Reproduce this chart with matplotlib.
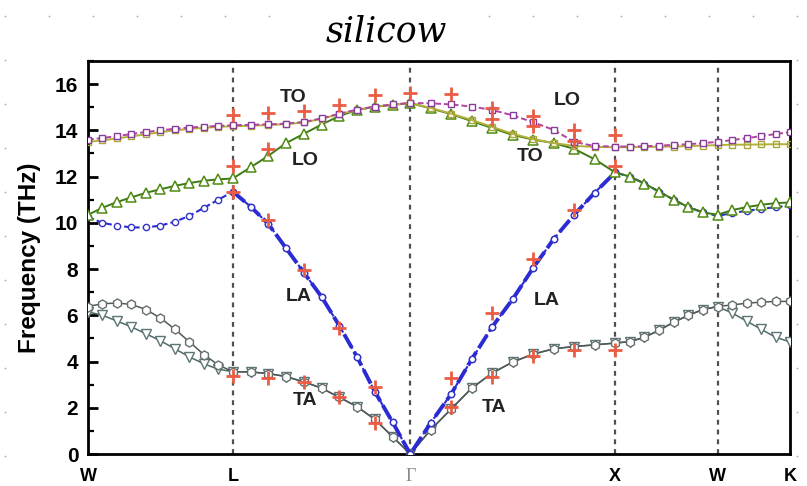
import numpy as np
import matplotlib
matplotlib.use('Agg')
import matplotlib.pyplot as plt
import matplotlib.ticker as ticker

plt.rc('font', family=['Liberation Sans', 'DejaVu Sans'], weight='bold')
plt.rc('axes', linewidth=2.0)

# path W-L-G-X-W-K, segment lengths in 2pi/a
seg_len = [0.7071, 0.8660, 1.0, 0.5, 0.3536]
seg_pts = [11, 11, 11, 8, 6]
kpt_labels = ['W', 'L', 'Γ', 'X', 'W', 'K']

# calculated branches, one list per segment (W-L, L-G, G-X, X-W, W-K), THz
lo_branch = [
    [13.6, 13.67, 13.75, 13.84, 13.93, 14.0, 14.07, 14.12, 14.16, 14.19, 14.22],
    [14.22, 14.24, 14.26, 14.29, 14.36, 14.52, 14.72, 14.9, 15.03, 15.12, 15.18],
    [15.18, 15.17, 15.12, 15.03, 14.88, 14.65, 14.35, 14.02, 13.5, 13.32, 13.3],
    [13.3, 13.3, 13.31, 13.34, 13.37, 13.4, 13.45, 13.5],
    [13.5, 13.58, 13.66, 13.75, 13.84, 13.92],
]
to_branch = [
    [13.5, 13.57, 13.65, 13.74, 13.83, 13.92, 14.0, 14.06, 14.11, 14.15, 14.18],
    [14.18, 14.2, 14.23, 14.27, 14.34, 14.5, 14.7, 14.88, 15.02, 15.11, 15.18],
    [15.18, 14.97, 14.72, 14.45, 14.15, 13.85, 13.62, 13.45, 13.33, 13.28, 13.27],
    [13.27, 13.27, 13.28, 13.29, 13.3, 13.32, 13.34, 13.36],
    [13.36, 13.38, 13.38, 13.39, 13.4, 13.4],
]
opt_branch = [
    [10.35, 10.65, 10.9, 11.1, 11.3, 11.45, 11.6, 11.72, 11.82, 11.88, 11.92],
    [11.92, 12.4, 12.9, 13.45, 13.85, 14.25, 14.62, 14.88, 15.02, 15.1, 15.18],
    [15.18, 14.95, 14.7, 14.4, 14.1, 13.8, 13.6, 13.45, 13.2, 12.75, 12.18],
    [12.18, 12.0, 11.7, 11.35, 11.0, 10.68, 10.45, 10.35],
    [10.35, 10.55, 10.68, 10.78, 10.85, 10.88],
]
la_branch = [
    [10.25, 10.0, 9.88, 9.8, 9.8, 9.88, 10.05, 10.3, 10.65, 11.0, 11.35],
    [11.35, 10.7, 9.95, 8.9, 7.85, 6.8, 5.55, 4.2, 2.7, 1.38, 0.0],
    [0.0, 1.35, 2.6, 4.1, 5.5, 6.7, 8.05, 9.3, 10.35, 11.3, 12.18],
    [12.18, 12.0, 11.7, 11.35, 11.0, 10.68, 10.45, 10.3],
    [10.3, 10.42, 10.52, 10.6, 10.68, 10.75],
]
ta_common = [
    [3.56, 3.55, 3.48, 3.35, 3.12, 2.85, 2.45, 2.05, 1.5, 0.75, 0.0],
    [0.0, 1.05, 1.95, 2.85, 3.5, 3.98, 4.32, 4.55, 4.65, 4.72, 4.8],
    [4.8, 4.86, 5.05, 5.35, 5.7, 6.0, 6.25, 6.38],
]
ta1_branch = ([[6.38, 6.5, 6.53, 6.47, 6.25, 5.88, 5.4, 4.85, 4.3, 3.85, 3.56]]
              + ta_common + [[6.38, 6.45, 6.52, 6.57, 6.6, 6.6]])
ta2_branch = ([[6.15, 6.0, 5.75, 5.5, 5.2, 4.9, 4.55, 4.2, 3.9, 3.67, 3.56]]
              + ta_common + [[6.38, 6.1, 5.75, 5.4, 5.05, 4.85]])

# experiment, fraction along segment and frequencies there
exp_lg_q = [0.0, 0.2, 0.4, 0.6, 0.8, 1.0]
exp_lg_f = [[14.65, 12.47, 11.35, 3.38], [14.75, 13.2, 10.13, 3.27],
            [14.82, 7.97, 3.13], [15.1, 5.45, 2.48], [15.54, 2.9, 1.33], [15.6]]
exp_gx_q = [0.2, 0.4, 0.6, 0.8, 1.0]
exp_gx_f = [[15.57, 3.3, 2.03], [14.95, 14.5, 6.1, 3.32],
            [14.6, 14.2, 8.45, 4.25], [14.03, 13.52, 10.56, 4.5], [13.8, 12.45, 4.5]]

kpt_x = np.concatenate([[0.0], np.cumsum(seg_len)])


def path_x():
    xs = []
    for i, (l, n) in enumerate(zip(seg_len, seg_pts)):
        x = kpt_x[i] + np.linspace(0, l, n)
        xs.append(x if i == 0 else x[1:])
    return np.concatenate(xs)


def join(branch):
    return np.concatenate([branch[0]] + [s[1:] for s in branch[1:]])


def exp_points(seg, qs, fs):
    x, y = [], []
    for q, f in zip(qs, fs):
        for v in f:
            x.append(kpt_x[seg] + q * seg_len[seg])
            y.append(v)
    return x, y


x = path_x()
iL, iX = 10, 30

fig = plt.figure(figsize=(8.07, 4.86), dpi=100)

# dotted paper behind everything
bg = fig.add_axes([0, 0, 1, 1], zorder=-5)
bg.set_xlim(0, 807)
bg.set_ylim(486, 0)
bg.axis('off')
gx, gy = np.meshgrid(np.arange(5, 807, 44), np.arange(16, 486, 44))
gx, gy = gx.ravel(), gy.ravel()
hide = ((gx > 12) & (gx < 795) & (gy > 48)) | ((gx > 300) & (gx < 470) & (gy < 50))
bg.scatter(gx[~hide], gy[~hide], s=1.5, color='#a8a8a8', lw=0)

ax = fig.add_axes([88 / 807, 32 / 486, 702 / 807, 393 / 486])

for xv in kpt_x[1:-1]:
    ax.axvline(xv, color='#505050', lw=1.6, ls=(0, (2.2, 2.2)), zorder=1)

ta_kw = dict(lw=1.1, ms=6.5, mfc='white', mew=1.0, zorder=3)
ax.plot(x, join(ta2_branch), color='#4f6a6a', marker='v', mec='#5d7575', **ta_kw)
ax.plot(x, join(ta1_branch), color='#505858', marker='h', mec='#666e6e', **ta_kw)

la = join(la_branch)
ax.plot(x, la, color='#2b2bd4', lw=1.5, ls=(0, (3, 1.5)), marker='o', ms=4.5,
        mfc='white', mec='#3333c8', mew=1.0, zorder=4)
ax.plot(x[iL:iX + 1], la[iL:iX + 1], color='#2b2bd4', lw=2.8, ls=(0, (4, 1.2)),
        marker='o', ms=4.5, mfc='white', mec='#3333c8', mew=1.0, zorder=4)

ax.plot(x, join(opt_branch), color='#3c7a16', lw=1.4, marker='^', ms=7,
        mfc='white', mec='#4f8a12', mew=1.1, zorder=5)
ax.plot(x, join(to_branch), color='#b3b13a', lw=1.4, marker='s', ms=4,
        mfc='none', mec='#a8a63a', mew=1.0, zorder=5)
ax.plot(x, join(lo_branch), color='#b0449e', lw=1.4, ls=(0, (3, 1.5)),
        marker='s', ms=4.5, mfc='white', mec='#8a3c9c', mew=1.0, zorder=6)

ex1, ey1 = exp_points(1, exp_lg_q, exp_lg_f)
ex2, ey2 = exp_points(2, exp_gx_q, exp_gx_f)
ax.plot(ex1 + ex2, ey1 + ey2, ls='none', marker='+', ms=10, mew=2.0,
        color='#ea5d45', zorder=7)

labels = [(1.00, 15.4, 'TO'), (1.06, 12.7, 'LO'), (1.03, 6.8, 'LA'), (1.06, 2.3, 'TA'),
          (2.34, 15.3, 'LO'), (2.16, 12.85, 'TO'), (2.24, 6.65, 'LA'), (1.98, 2.0, 'TA')]
for lx, ly, t in labels:
    ax.text(lx, ly, t, fontsize=14, fontweight='bold', ha='center', va='center',
            color='#222222', zorder=8)

ax.set_xlim(0, kpt_x[-1])
ax.set_ylim(0, 17)
ax.set_xticks(kpt_x)
ax.set_xticklabels(kpt_labels)
ax.yaxis.set_major_locator(ticker.MultipleLocator(2))
ax.yaxis.set_minor_locator(ticker.MultipleLocator(1))
ax.tick_params(axis='y', which='major', direction='in', length=7, width=2,
               labelsize=15, pad=7)
ax.tick_params(axis='y', which='minor', direction='in', length=4, width=1.6)
ax.tick_params(axis='x', length=0, labelsize=13, pad=10)
for lab in ax.get_xticklabels():
    if lab.get_text() == 'Γ':
        lab.set_family(['Liberation Serif', 'DejaVu Serif'])
        lab.set_fontweight('normal')
        lab.set_color('#8a8a8a')
ax.set_ylabel('Frequency (THz)', fontsize=17.5, fontweight='bold', labelpad=10)

fig.text(386 / 807, 1 - 31 / 486, 'silicow', fontsize=25, fontstyle='italic',
         fontweight='normal', family=['DejaVu Serif'], ha='center', va='center')

fig.savefig('out.png', dpi=100)
